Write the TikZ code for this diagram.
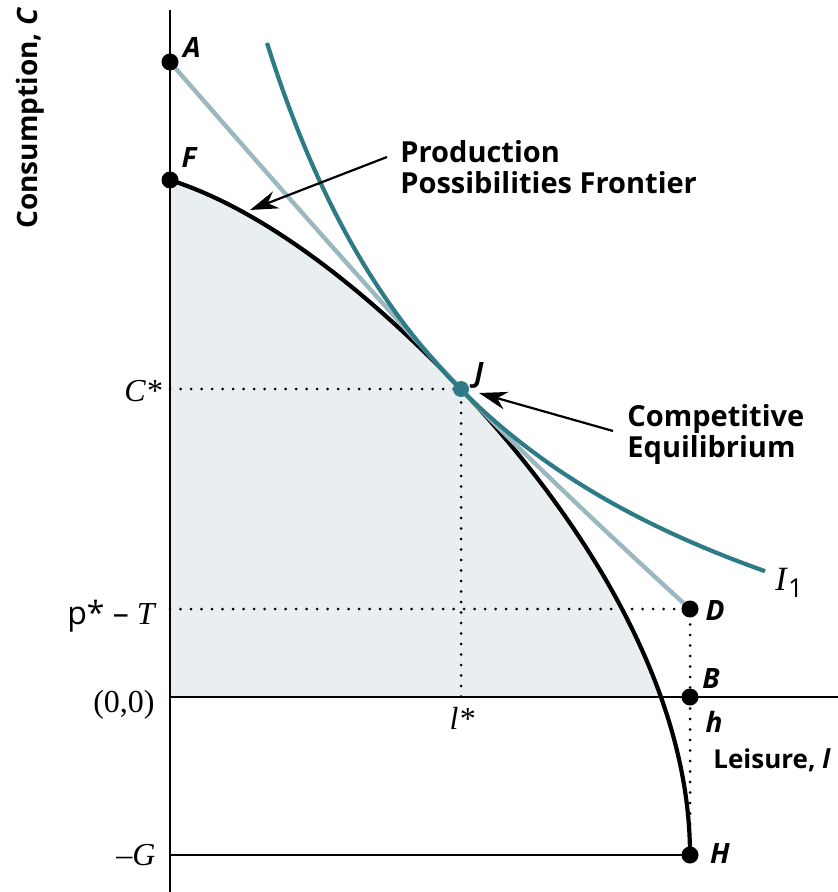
\documentclass[tikz,border=0pt]{standalone}
\usepackage{fontspec}
\setmainfont{Liberation Serif}
\setsansfont{Open Sans}
\usetikzlibrary{arrows.meta}

\definecolor{ppffill}{HTML}{E9EEF0}
\definecolor{budget}{HTML}{9BB8C0}
\definecolor{indiff}{HTML}{2E7B88}

\tikzset{
  bigdot/.style={circle, fill=black, inner sep=0pt, minimum size=8.5pt},
  ptlabel/.style={font=\sffamily\bfseries\itshape\fontsize{14}{16}\selectfont, inner sep=0pt, anchor=base},
  ticklabel/.style={font=\fontsize{16}{18}\selectfont, anchor=base east, inner sep=0pt},
  guide/.style={line width=1.5pt, dash pattern=on 0pt off 5.25pt, line cap=round},
  callout/.style={font=\sffamily\bfseries\fontsize{14.5}{15.5}\selectfont, align=left, anchor=north west, inner sep=0pt},
  pointer/.style={line width=1.1pt, -{Stealth[length=14pt, width=9pt]}},
}

\begin{document}
\begin{tikzpicture}[x=0.5pt, y=-0.5pt, line join=round]
    \useasboundingbox (0,0) rectangle (838,892);

    % Key points
    \coordinate (O) at (170,697);
    \coordinate (A) at (170,62);
    \coordinate (F) at (170,180);
    \coordinate (J) at (461,389);
    \coordinate (D) at (690,609);
    \coordinate (B) at (690,697);
    \coordinate (H) at (690,855);
    \coordinate (Cstar) at (170,389);
    \coordinate (lstar) at (461,697);
    \coordinate (PT) at (170,609);
    \coordinate (G) at (170,855);
    \coordinate (ytop) at (170,10);
    \coordinate (ybot) at (170,892);
    \coordinate (xend) at (838,697);

    % Shaded production set
    \begin{scope}
        \clip (O) rectangle (838,0);
        \fill[ppffill] (F) .. controls (280,215) and (391,315.5) .. (J)
            .. controls (531,463) and (690,650) .. (H) -- (G) -- cycle;
    \end{scope}

    % Axes
    \draw[line width=1.2pt] (ytop) -- (ybot);
    \draw[line width=1.2pt] (O) -- (xend);
    \draw[line width=1.2pt] (G) -- (H);

    % Dotted guides
    \draw[guide] (Cstar) -- (J) -- (lstar);
    \draw[guide] (PT) -- (D) -- (B) -- (H);

    % Frontier, budget line and indifference curve
    \draw[line width=2.1pt] (F) .. controls (280,215) and (391,315.5) .. (J)
        .. controls (531,463) and (690,650) .. (H);
    \draw[budget, line width=2.2pt] (A) .. controls (290,200) and (410,335) .. (J)
        .. controls (510,441) and (600,527) .. (D);
    \draw[indiff, line width=2.1pt] plot[domain=267:765, samples=90]
        (\x, {836.3 - 1983.25/((\x-17)/100)});

    % Dots
    \node[bigdot] (nA) at (A) {};
    \node[bigdot] (nF) at (F) {};
    \node[bigdot] (nD) at (D) {};
    \node[bigdot] (nB) at (B) {};
    \node[bigdot] (nH) at (H) {};
    \node[bigdot, fill=indiff, minimum size=8pt] (nJ) at (J) {};

    % Point labels
    \node[ptlabel] (lA) at (192,58) {A};
    \node[ptlabel] (lF) at (189,168) {F};
    \node[ptlabel] (lJ) at (479,382) {J};
    \node[ptlabel] (lD) at (715,620) {D};
    \node[ptlabel] (lB) at (711,688) {B};
    \node[ptlabel] (lh) at (714,732) {h};
    \node[ptlabel] (lH) at (720,863) {H};
    \node[inner sep=0pt, anchor=base west] (lI) at (775,590)
        {\fontsize{17}{19}\selectfont\textit{I}\textsf{\fontsize{13}{15}\selectfont\raisebox{-3.5pt}{1}}};

    % Axis values
    \node[ticklabel] (tC) at (162,401) {\textit{C*}};
    \node[ticklabel] (tPT) at (157,624) {\textsf{p* –} \textit{T}};
    \node[ticklabel] (tO) at (155,712) {(0,0)};
    \node[ticklabel] (tG) at (156,865) {–\textit{G}};
    \node[ticklabel, anchor=base] (tl) at (462,729) {\textit{l*}};

    % Axis titles
    \node[rotate=90, anchor=base west, inner sep=0pt, font=\sffamily\bfseries\fontsize{14}{16}\selectfont] (ylab) at (37,229) {Consumption, \textit{C}};
    \node[anchor=base west, inner sep=0pt, font=\sffamily\bfseries\fontsize{13}{15}\selectfont] (xlab) at (713,768) {Leisure, \textit{l}};

    % Callouts
    \node[callout] (ppfnote) at (400,140) {Production\\Possibilities Frontier};
    \coordinate (ppfstart) at (387,157);
    \coordinate (ppftip) at (250,210);
    \draw[pointer] (ppfstart) -- (ppftip);

    \node[callout] (eqnote) at (627,404) {Competitive\\Equilibrium};
    \coordinate (eqstart) at (613,431);
    \coordinate (eqtip) at (479,393);
    \draw[pointer] (eqstart) -- (eqtip);
\end{tikzpicture}
\end{document}
